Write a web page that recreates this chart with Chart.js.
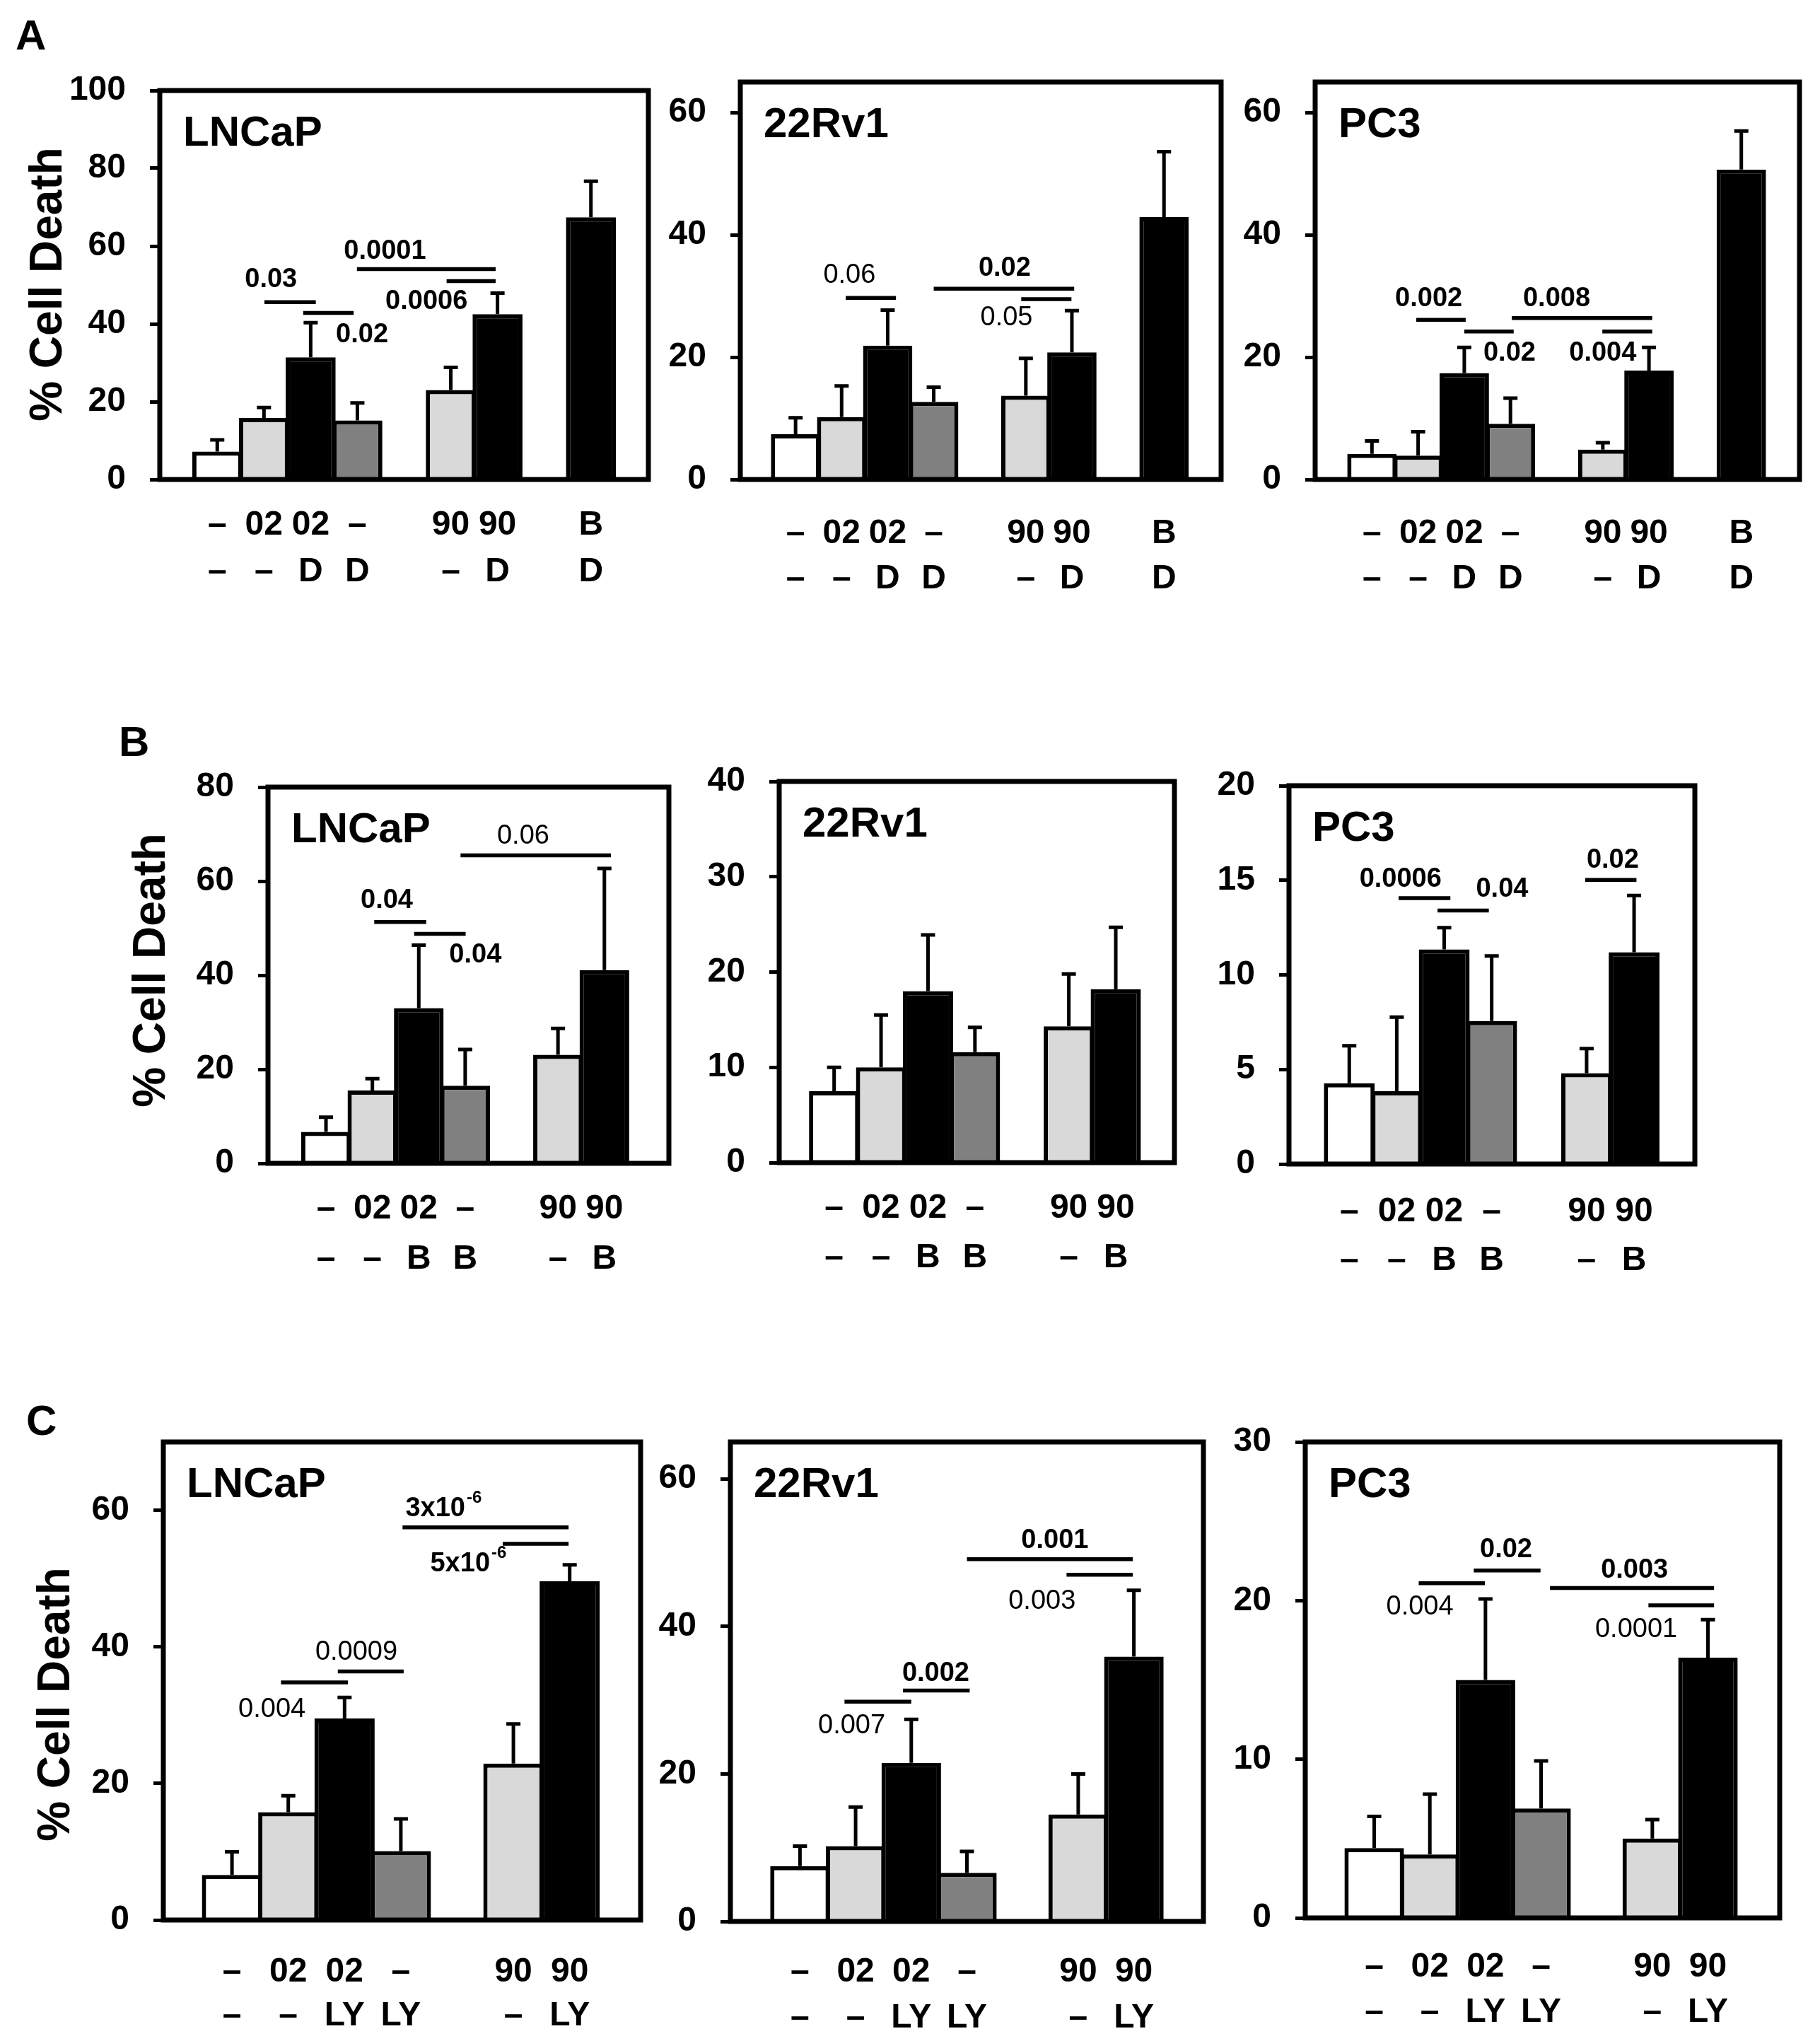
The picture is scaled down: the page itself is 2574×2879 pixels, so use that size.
<!DOCTYPE html>
<html>
<head>
<meta charset="utf-8">
<script src="https://cdn.jsdelivr.net/npm/chart.js@4.4.1/dist/chart.umd.min.js"></script>
<style>
	body { margin: 0; background: #fff; width: 2574px; height: 2879px; position: relative; overflow: hidden; }
	.letter { position: absolute; font: bold 60px "Liberation Sans", Arial, sans-serif; line-height: 1; color: #000; }
</style>
</head>
<body>
<div class="letter" style="left:22px;top:20px">A</div>
<div class="letter" style="left:168px;top:1019px">B</div>
<div class="letter" style="left:37px;top:1979px">C</div>
<script>
const FONT = '"Liberation Sans", Arial, sans-serif';
const WHITE = '#ffffff', LIGHT = '#d9d9d9', DARK = '#808080', BLACK = '#000000';

// x labels, two rows; '' is the empty slot between groups
const labelsA1 = ['–', '02', '02', '–', '', '90', '90', '', 'B'];
const labelsA2 = ['–', '–', 'D', 'D', '', '–', 'D', '', 'D'];
const labelsB1 = ['–', '02', '02', '–', '', '90', '90'];
const labelsB2 = ['–', '–', 'B', 'B', '', '–', 'B'];
const labelsC1 = ['–', '02', '02', '–', '', '90', '90'];
const labelsC2 = ['–', '–', 'LY', 'LY', '', '–', 'LY'];

// bar fills per slot
const fillA = [WHITE, LIGHT, BLACK, DARK, null, LIGHT, BLACK, null, BLACK];
const fillBC = [WHITE, LIGHT, BLACK, DARK, null, LIGHT, BLACK];

// % cell death, mean and error (upper bar)
const aLncapMean = [7.2, 15.8, 31.4, 15.2, null, 23.0, 42.5, null, 67.4];
const aLncapErr = [3.0, 2.7, 8.9, 4.5, null, 5.8, 5.4, null, 9.3];
const a22rv1Mean = [7.4, 10.2, 21.9, 12.7, null, 13.7, 20.8, null, 42.9];
const a22rv1Err = [2.7, 5.1, 5.8, 2.4, null, 6.1, 6.8, null, 10.7];
const aPc3Mean = [4.2, 3.9, 17.4, 9.1, null, 4.9, 17.8, null, 50.7];
const aPc3Err = [2.1, 3.9, 4.2, 4.2, null, 1.1, 3.8, null, 6.3];

const bLncapMean = [6.7, 15.5, 33.0, 16.5, null, 23.1, 41.1];
const bLncapErr = [3.1, 2.5, 13.4, 7.7, null, 5.6, 21.6];
const b22rv1Mean = [7.5, 10.0, 18.0, 11.6, null, 14.3, 18.2];
const b22rv1Err = [2.5, 5.5, 5.9, 2.6, null, 5.5, 6.5];
const bPc3Mean = [4.27, 3.85, 11.35, 7.56, null, 4.8, 11.2];
const bPc3Err = [1.98, 3.92, 1.15, 3.44, null, 1.3, 3.0];

const cLncapMean = [6.6, 15.8, 29.5, 10.1, null, 22.9, 49.6];
const cLncapErr = [3.4, 2.4, 3.1, 4.7, null, 5.8, 2.4];
const c22rv1Mean = [7.5, 10.2, 21.5, 6.6, null, 14.5, 35.9];
const c22rv1Err = [2.7, 5.3, 5.9, 2.9, null, 5.5, 9.0];
const cPc3Mean = [4.4, 4.0, 15.0, 6.9, null, 5.0, 16.4];
const cPc3Err = [2.0, 3.8, 5.1, 3.0, null, 1.2, 2.4];

// y tick values
const ticks100 = [0, 20, 40, 60, 80, 100];
const ticks80 = [0, 20, 40, 60, 80];
const ticks60 = [0, 20, 40, 60];
const ticks40 = [0, 10, 20, 30, 40];
const ticks30 = [0, 10, 20, 30];
const ticks20 = [0, 5, 10, 15, 20];

// p values: line from slot x1 to x2 at value y, text centred at (tx, ty)
const aLncapSig = [
	{ p: '0.03', b: 1, tx: 1.15, ty: 51.4, x1: 1.01, x2: 2.11, y: 45.6 },
	{ p: '0.02', b: 1, tx: 3.1, ty: 37.1, x1: 1.84, x2: 2.92, y: 42.8 },
	{ p: '0.0001', b: 1, tx: 3.59, ty: 58.6, x1: 2.99, x2: 5.96, y: 54.1 },
	{ p: '0.0006', b: 1, tx: 4.48, ty: 45.8, x1: 4.91, x2: 5.96, y: 51.0 },
];
const a22rv1Sig = [
	{ p: '0.06', b: 0, tx: 1.17, ty: 33.4, x1: 1.09, x2: 2.18, y: 29.7 },
	{ p: '0.02', b: 1, tx: 4.54, ty: 34.5, x1: 3.0, x2: 6.05, y: 31.2 },
	{ p: '0.05', b: 0, tx: 4.58, ty: 26.4, x1: 4.9, x2: 5.99, y: 29.5 },
];
const aPc3Sig = [
	{ p: '0.002', b: 1, tx: 1.23, ty: 29.5, x1: 0.96, x2: 2.03, y: 26.1 },
	{ p: '0.02', b: 1, tx: 2.98, ty: 20.7, x1: 2.0, x2: 3.07, y: 24.2 },
	{ p: '0.008', b: 1, tx: 4.0, ty: 29.6, x1: 3.03, x2: 6.07, y: 26.4 },
	{ p: '0.004', b: 1, tx: 5.0, ty: 20.7, x1: 4.99, x2: 6.07, y: 24.2 },
];
const bLncapSig = [
	{ p: '0.04', b: 1, tx: 1.31, ty: 55.9, x1: 1.04, x2: 2.16, y: 51.3 },
	{ p: '0.04', b: 1, tx: 3.22, ty: 44.3, x1: 1.9, x2: 3.01, y: 48.8 },
	{ p: '0.06', b: 0, tx: 4.25, ty: 69.6, x1: 2.9, x2: 6.14, y: 65.5 },
];
const b22rv1Sig = [];
const bPc3Sig = [
	{ p: '0.0006', b: 1, tx: 1.08, ty: 15.06, x1: 1.04, x2: 2.13, y: 14.06 },
	{ p: '0.04', b: 1, tx: 3.22, ty: 14.54, x1: 1.86, x2: 2.94, y: 13.4 },
	{ p: '0.02', b: 1, tx: 5.55, ty: 16.06, x1: 4.97, x2: 6.05, y: 15.02 },
];
const cLncapSig = [
	{ p: '3x10', sup: '-6', b: 1, tx: 3.76, ty: 60.2, x1: 3.03, x2: 5.98, y: 57.5 },
	{ p: '5x10', sup: '-6', b: 1, tx: 4.2, ty: 52.1, x1: 4.81, x2: 5.98, y: 55.1 },
	{ p: '0.0009', b: 0, tx: 2.21, ty: 39.2, x1: 1.88, x2: 3.05, y: 36.4 },
	{ p: '0.004', b: 0, tx: 0.71, ty: 30.8, x1: 0.87, x2: 2.06, y: 34.8 },
];
const c22rv1Sig = [
	{ p: '0.007', b: 0, tx: 0.93, ty: 26.5, x1: 0.8, x2: 2.0, y: 29.8 },
	{ p: '0.002', b: 1, tx: 2.44, ty: 33.6, x1: 1.85, x2: 3.05, y: 31.3 },
	{ p: '0.001', b: 1, tx: 4.58, ty: 51.6, x1: 3.0, x2: 5.98, y: 49.1 },
	{ p: '0.003', b: 0, tx: 4.35, ty: 43.4, x1: 4.79, x2: 5.98, y: 47.0 },
];
const cPc3Sig = [
	{ p: '0.004', b: 0, tx: 0.82, ty: 19.6, x1: 0.8, x2: 1.99, y: 21.1 },
	{ p: '0.02', b: 1, tx: 2.37, ty: 23.2, x1: 1.79, x2: 2.99, y: 21.9 },
	{ p: '0.003', b: 1, tx: 4.68, ty: 21.9, x1: 3.16, x2: 6.11, y: 20.8 },
	{ p: '0.0001', b: 0, tx: 4.71, ty: 18.15, x1: 4.93, x2: 6.11, y: 19.7 },
];

// layout: box = plot frame [left, top, right, bottom] on the page,
// rows = distance of the two label rows below the axis
const panels = [
	{ name: 'LNCaP', box: [226, 128, 917, 678], yMax: 100, yTicks: ticks100, xRange: [-1.23, 9.23],
		labels: [labelsA1, labelsA2], fill: fillA, mean: aLncapMean, err: aLncapErr, sig: aLncapSig,
		rows: [57, 123], yTitle: [69, 402] },
	{ name: '22Rv1', box: [1047, 116, 1727, 678], yMax: 65, yTicks: ticks60, xRange: [-1.2, 9.24],
		labels: [labelsA1, labelsA2], fill: fillA, mean: a22rv1Mean, err: a22rv1Err, sig: a22rv1Sig,
		rows: [69, 133] },
	{ name: 'PC3', box: [1860, 116, 2545, 678], yMax: 65, yTicks: ticks60, xRange: [-1.23, 9.26],
		labels: [labelsA1, labelsA2], fill: fillA, mean: aPc3Mean, err: aPc3Err, sig: aPc3Sig,
		rows: [69, 133] },
	{ name: 'LNCaP', box: [379, 1113, 946, 1645], yMax: 80, yTicks: ticks80, xRange: [-1.25, 7.39],
		labels: [labelsB1, labelsB2], fill: fillBC, mean: bLncapMean, err: bLncapErr, sig: bLncapSig,
		rows: [57, 128], yTitle: [215, 1372] },
	{ name: '22Rv1', box: [1102, 1105, 1661, 1644], yMax: 40, yTicks: ticks40, xRange: [-1.17, 7.25],
		labels: [labelsB1, labelsB2], fill: fillBC, mean: b22rv1Mean, err: b22rv1Err, sig: b22rv1Sig,
		rows: [57, 127] },
	{ name: 'PC3', box: [1823, 1111, 2397, 1646], yMax: 20, yTicks: ticks20, xRange: [-1.27, 7.28],
		labels: [labelsB1, labelsB2], fill: fillBC, mean: bPc3Mean, err: bPc3Err, sig: bPc3Sig,
		rows: [60, 129] },
	{ name: 'LNCaP', box: [231, 2039, 906, 2715], yMax: 70, yTicks: ticks60, xRange: [-1.22, 7.26],
		labels: [labelsC1, labelsC2], fill: fillBC, mean: cLncapMean, err: cLncapErr, sig: cLncapSig,
		rows: [66, 128], yTitle: [80, 2410] },
	{ name: '22Rv1', box: [1033, 2039, 1702, 2717], yMax: 65, yTicks: ticks60, xRange: [-1.25, 7.25],
		labels: [labelsC1, labelsC2], fill: fillBC, mean: c22rv1Mean, err: c22rv1Err, sig: c22rv1Sig,
		rows: [64, 129] },
	{ name: 'PC3', box: [1846, 2039, 2517, 2712], yMax: 30, yTicks: ticks30, xRange: [-1.24, 7.29],
		labels: [labelsC1, labelsC2], fill: fillBC, mean: cPc3Mean, err: cPc3Err, sig: cPc3Sig,
		rows: [62, 126] },
];

Chart.defaults.font.family = FONT;
Chart.defaults.color = '#000';

function drawP(ctx, s, cx, cy) {
	const weight = s.b ? 'bold ' : '';
	const main = weight + '38px ' + FONT;
	const sup = weight + '24px ' + FONT;
	ctx.font = main;
	const w1 = ctx.measureText(s.p).width;
	let w2 = 0;
	if (s.sup) {
		ctx.font = sup;
		w2 = ctx.measureText(s.sup).width + 2;
	}
	const left = cx - (w1 + w2) / 2;
	ctx.textAlign = 'left';
	ctx.textBaseline = 'middle';
	ctx.font = main;
	ctx.fillText(s.p, left, cy);
	if (s.sup) {
		ctx.font = sup;
		ctx.fillText(s.sup, left + w1 + 2, cy - 15);
	}
}

// error bars, frame, p values, panel name and y title
const figurePlugin = {
	id: 'figure',
	afterDatasetsDraw(chart, args, opts) {
		const { ctx, chartArea: a, scales: { x, y } } = chart;
		const ds = chart.data.datasets[0];
		const meta = chart.getDatasetMeta(0);
		ctx.save();
		ctx.strokeStyle = '#000';
		ctx.fillStyle = '#000';

		ctx.lineWidth = 5;
		meta.data.forEach((bar, j) => {
			const d = ds.data[j];
			const top = y.getPixelForValue(d.y + d.err);
			ctx.beginPath();
			ctx.moveTo(bar.x, bar.y);
			ctx.lineTo(bar.x, top);
			ctx.moveTo(bar.x - 10, top);
			ctx.lineTo(bar.x + 10, top);
			ctx.stroke();
		});

		ctx.lineWidth = 7;
		ctx.strokeRect(a.left, a.top, a.width, a.height);

		ctx.lineWidth = 5.5;
		for (let s of opts.sig) {
			const py = y.getPixelForValue(s.y);
			ctx.beginPath();
			ctx.moveTo(x.getPixelForValue(s.x1), py);
			ctx.lineTo(x.getPixelForValue(s.x2), py);
			ctx.stroke();
			drawP(ctx, s, x.getPixelForValue(s.tx), y.getPixelForValue(s.ty));
		}

		ctx.font = 'bold 60px ' + FONT;
		ctx.textAlign = 'left';
		ctx.textBaseline = 'alphabetic';
		ctx.fillText(opts.name, a.left + 33, a.top + 78);

		if (opts.yTitle) {
			ctx.translate(opts.yTitle[0], opts.yTitle[1]);
			ctx.rotate(-Math.PI / 2);
			ctx.font = 'bold 64px ' + FONT;
			ctx.textAlign = 'center';
			ctx.textBaseline = 'middle';
			ctx.fillText('% Cell Death', 0, 0);
		}
		ctx.restore();
	}
};

for (let p of panels) {
	const [l, t, r, b] = p.box;
	const left = p.yTitle ? 0 : l - 160;
	const top = t - 70;
	const W = r + 20 - left;
	const H = b + 190 - top;

	const canvas = document.createElement('canvas');
	canvas.width = W;
	canvas.height = H;
	canvas.style.cssText = `position:absolute;left:${left}px;top:${top}px;width:${W}px;height:${H}px`;
	document.body.appendChild(canvas);

	const slots = p.labels[0].map((_, i) => i).filter(i => p.mean[i] !== null);
	const lh = p.rows[1] - p.rows[0];

	new Chart(canvas, {
		type: 'bar',
		data: {
			datasets: [{
				data: slots.map(i => ({ x: i, y: p.mean[i], err: p.err[i] })),
				backgroundColor: slots.map(i => p.fill[i]),
				borderColor: BLACK,
				borderWidth: 6,
				categoryPercentage: 1,
				barPercentage: 1.07,
			}]
		},
		options: {
			responsive: false,
			animation: false,
			devicePixelRatio: 1,
			layout: { padding: { top: t - top, right: 20, left: 0, bottom: 0 } },
			plugins: {
				legend: { display: false },
				tooltip: { enabled: false },
				figure: {
					name: p.name,
					sig: p.sig,
					yTitle: p.yTitle ? [p.yTitle[0] - left, p.yTitle[1] - top] : null,
				},
			},
			scales: {
				x: {
					type: 'linear',
					offset: false,
					min: p.xRange[0],
					max: p.xRange[1],
					grid: { display: false, offset: false },
					border: { display: false },
					afterBuildTicks: s => { s.ticks = slots.map(v => ({ value: v })); },
					afterFit: s => { s.height = H - (b - top); s.paddingLeft = 0; s.paddingRight = 0; },
					ticks: {
						autoSkip: false,
						maxRotation: 0,
						padding: p.rows[0] - lh / 2,
						font: { size: 48, weight: 'bold', lineHeight: lh / 48 },
						callback: v => [p.labels[0][v], p.labels[1][v]],
					},
				},
				y: {
					min: 0,
					max: p.yMax,
					border: { display: false },
					grid: { drawOnChartArea: false, drawTicks: true, tickLength: 14, lineWidth: 5, color: BLACK },
					afterBuildTicks: s => { s.ticks = p.yTicks.map(v => ({ value: v })); },
					afterFit: s => { s.width = l - left; },
					ticks: { padding: 34, font: { size: 48, weight: 'bold' } },
				},
			},
		},
		plugins: [figurePlugin],
	});
}
</script>
</body>
</html>
